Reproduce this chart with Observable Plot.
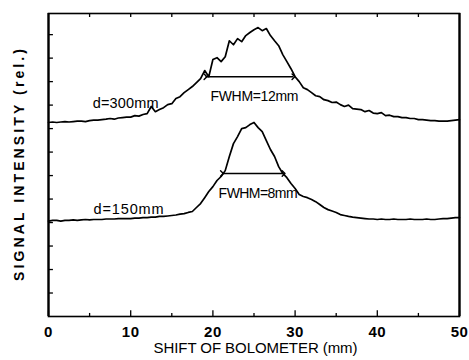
<!DOCTYPE html>
<html><head><meta charset="utf-8">
<script src="https://cdn.jsdelivr.net/npm/d3@7"></script>
<script src="https://cdn.jsdelivr.net/npm/@observablehq/plot@0.6"></script>
<style>
html,body{margin:0;padding:0;background:#fff;}
</style></head><body><div id="chart"></div>
<script>
// sampling positions of the bolometer shift (mm)
const shift = d3.range(0, 50.001, 0.5);
// relative signal, d = 300 mm
const signal300 = [
 8.26,8.28,8.26,8.28,8.30,8.28,8.30,8.32,8.32,8.30,
 8.34,8.36,8.36,8.38,8.40,8.43,8.40,8.45,8.47,8.49,
 8.49,8.55,8.53,8.60,8.64,8.94,8.72,8.81,8.89,9.02,
 9.06,9.28,9.36,9.53,9.66,9.79,9.96,10.13,10.47,10.21,
 10.94,11.02,10.85,11.06,11.74,11.57,11.83,11.70,11.96,12.09,
 12.21,12.30,12.17,12.26,11.96,11.74,11.53,11.15,10.85,10.55,
 10.21,10.00,9.74,9.66,9.53,9.40,9.36,9.23,9.19,9.11,
 9.13,9.02,8.94,9.00,8.85,8.83,8.81,8.72,8.77,8.66,
 8.64,8.68,8.55,8.57,8.51,8.51,8.47,8.47,8.43,8.43,
 8.38,8.38,8.36,8.34,8.34,8.32,8.32,8.32,8.34,8.36,
 8.38];
// relative signal, d = 150 mm
const signal150 = [
 4.06,4.09,4.09,4.06,4.09,4.09,4.11,4.09,4.11,4.13,
 4.11,4.13,4.13,4.13,4.15,4.15,4.15,4.17,4.17,4.17,
 4.17,4.19,4.19,4.21,4.21,4.23,4.23,4.26,4.26,4.28,
 4.30,4.32,4.36,4.38,4.43,4.47,4.64,4.81,5.06,5.32,
 5.53,5.79,5.96,6.21,6.81,7.36,7.66,8.00,8.04,8.17,
 8.26,8.04,7.87,7.49,7.11,6.81,6.38,6.09,5.91,5.66,
 5.45,5.19,5.11,5.06,4.98,4.89,4.77,4.64,4.55,4.49,
 4.43,4.34,4.30,4.26,4.23,4.21,4.19,4.17,4.15,4.15,
 4.13,4.15,4.13,4.13,4.15,4.13,4.13,4.13,4.15,4.13,
 4.13,4.13,4.15,4.13,4.13,4.15,4.17,4.17,4.19,4.21,
 4.21];

const curveLabels = ["d=300mm", "d=150mm"];
const curveLabelX = [13.4, 14.0];
const curveLabelY = [9.06, 4.55];

const fwhmLabels = ["FWHM=12mm", "FWHM=8mm"];
const fwhmFrom = [19.1, 21.1];
const fwhmTo = [29.8, 28.6];
const fwhmLevel = [10.21, 6.09];
const fwhmTextX = [25.06, 25.5];
const fwhmTextY = [9.36, 5.23];

const xTickLabels = [0, 10, 20, 30, 40, 50];
const xMinorTicks = [5, 15, 25, 35, 45];
const topTicks = [5, 10, 15, 20, 25, 30, 35, 40, 45];
const yTicks = [1, 2, 3, 4, 5, 6, 7, 8, 9, 10, 11, 12];
const xTitle = "SHIFT OF BOLOMETER (mm)";
const yTitle = "SIGNAL INTENSITY (rel.)";

const yTop = 12.9;

const rows300 = shift.map((s, i) => ({shift: s, signal: signal300[i]}));
const rows150 = shift.map((s, i) => ({shift: s, signal: signal150[i]}));
const curveText = curveLabels.map((t, i) => ({t, x: curveLabelX[i], y: curveLabelY[i]}));
const fwhm = fwhmLabels.map((t, i) => ({t, from: fwhmFrom[i], to: fwhmTo[i], level: fwhmLevel[i], tx: fwhmTextX[i], ty: fwhmTextY[i]}));

const chart = Plot.plot({
  width: 469, height: 360,
  marginLeft: 48, marginRight: 10, marginTop: 13, marginBottom: 44,
  x: {domain: [0, 50]},
  y: {domain: [0, yTop], axis: null},
  style: {fontFamily: "'Liberation Sans', Arial, sans-serif", background: "white", color: "black", overflow: "visible"},
  marks: [
    Plot.axisX(xTickLabels, {tickSize: 0, tickPadding: 10, fontSize: 15, fontWeight: "bold", label: null}),
    Plot.ruleX(xTickLabels, {y1: 0, y2: 0.24, stroke: "black", strokeWidth: 1.3}),
    Plot.ruleX(xMinorTicks, {y1: 0, y2: 0.13, stroke: "black", strokeWidth: 1.3}),
    Plot.ruleX(topTicks, {y1: yTop, y2: yTop - 0.17, stroke: "black", strokeWidth: 1.3}),
    Plot.ruleY(yTicks, {x1: 0, x2: 0.6, stroke: "black", strokeWidth: 1.3}),
    Plot.line(rows300, {x: "shift", y: "signal", stroke: "black", strokeWidth: 1.7}),
    Plot.line(rows150, {x: "shift", y: "signal", stroke: "black", strokeWidth: 1.7}),
    Plot.text(curveText, {x: "x", y: "y", text: "t", textAnchor: "end", fontSize: 14.5, fill: "black"}),
    Plot.link(fwhm, {x1: "from", x2: "to", y1: "level", y2: "level", stroke: "black", strokeWidth: 1.4, markerStart: "arrow", markerEnd: "arrow"}),
    Plot.text(fwhm, {x: "tx", y: "ty", text: "t", fontSize: 14, fontWeight: 500, fill: "black"}),
    Plot.text([xTitle], {frameAnchor: "bottom", textAnchor: "middle", dy: 36, dx: 1.5, fontSize: 15, fill: "black"}),
    Plot.text([yTitle], {frameAnchor: "left", textAnchor: "middle", rotate: -90, dx: -29, fontSize: 14, fontWeight: "bold", fill: "black"}),
    Plot.frame({stroke: "black", strokeWidth: 1.6}),
    Plot.ruleX([0, 50], {stroke: "black", strokeWidth: 2.2})
  ]
});

const fitWidths = {
  "SIGNAL INTENSITY (rel.)": 232,
  "SHIFT OF BOLOMETER (mm)": 204,
  "d=300mm": 66,
  "d=150mm": 70,
  "FWHM=12mm": 88,
  "FWHM=8mm": 79
};
d3.select(chart).selectAll("text").each(function() {
  const t = this.textContent;
  if (fitWidths[t]) {
    this.setAttribute("textLength", fitWidths[t]);
    this.setAttribute("lengthAdjust", "spacing");
  } else if (/^\d+$/.test(t)) this.style.letterSpacing = "0.5px";
});
document.getElementById("chart").appendChild(chart);
</script>
</body></html>
